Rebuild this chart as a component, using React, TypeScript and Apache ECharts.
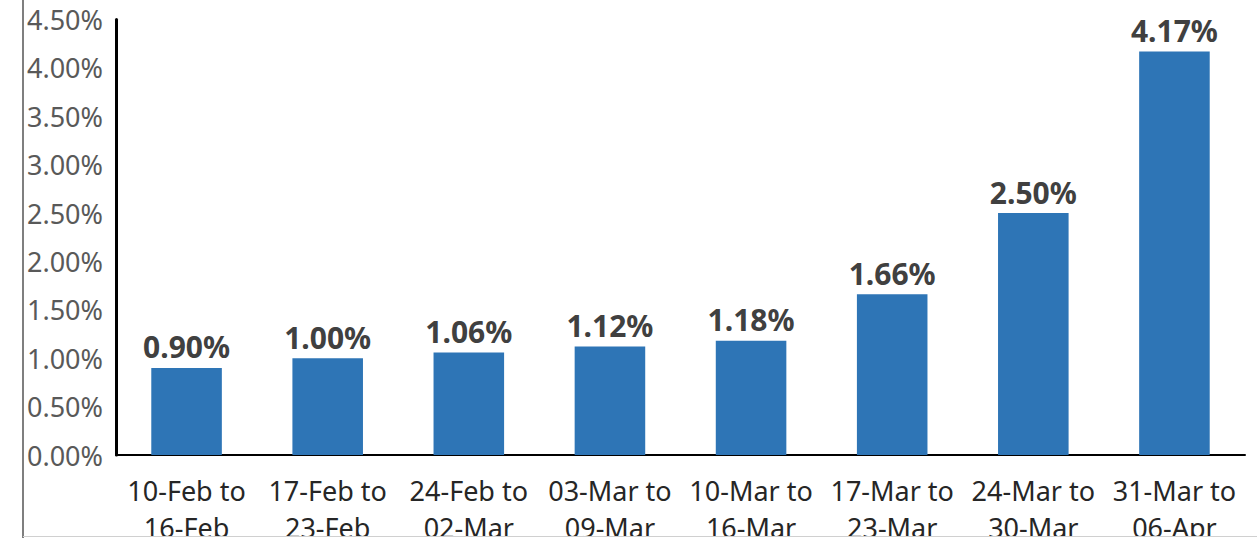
import React, { useEffect, useRef } from "react";
import * as echarts from "echarts";

const categories = [
  "10-Feb to\n16-Feb",
  "17-Feb to\n23-Feb",
  "24-Feb to\n02-Mar",
  "03-Mar to\n09-Mar",
  "10-Mar to\n16-Mar",
  "17-Mar to\n23-Mar",
  "24-Mar to\n30-Mar",
  "31-Mar to\n06-Apr",
];
const values = [0.9, 1.0, 1.06, 1.12, 1.18, 1.66, 2.5, 4.17];

export default function App() {
  const ref = useRef<HTMLDivElement>(null);
  useEffect(() => {
    if (!ref.current) return;
    const chart = echarts.init(ref.current, null, { renderer: "svg" });
    chart.setOption({
      animation: false,
      textStyle: { fontFamily: "Noto Sans" },
      grid: {
        left: 116,
        top: 19.5,
        right: 12,
        bottom: 83,
        containLabel: false,
        outerBoundsMode: "none",
      },
      xAxis: {
        type: "category",
        data: categories,
        axisLine: { lineStyle: { color: "#000", width: 2 } },
        axisTick: { show: false },
        axisLabel: {
          color: "#262626",
          fontSize: 27,
          lineHeight: 37,
          margin: 17,
          interval: 0,
          fontFamily: "Noto Sans",
        },
      },
      yAxis: {
        type: "value",
        min: 0,
        max: 4.5,
        interval: 0.5,
        axisLine: { show: true, lineStyle: { color: "#000", width: 3 } },
        axisTick: { show: false },
        splitLine: { show: false },
        axisLabel: {
          color: "#595959",
          fontSize: 27,
          margin: 13,
          fontFamily: "Noto Sans",
          formatter: (v: number) => v.toFixed(2) + "%",
        },
      },
      series: [
        {
          type: "bar",
          data: values,
          barWidth: "50%",
          itemStyle: { color: "#2E75B6" },
          label: {
            show: true,
            position: "top",
            distance: 6,
            color: "#404040",
            fontSize: 30,
            fontWeight: "bold",
            fontFamily: "Noto Sans",
            formatter: (p: any) => Number(p.value).toFixed(2) + "%",
          },
        },
      ],
      graphic: [
        { type: "rect", z: 100, shape: { x: 0, y: 0, width: 22, height: 538 }, style: { fill: "#fff" } },
        { type: "rect", z: 100, shape: { x: 0, y: 537, width: 1257, height: 10 }, style: { fill: "#fff" } },
        { type: "line", z: 101, shape: { x1: 23, y1: 0, x2: 23, y2: 538 }, style: { stroke: "#7f7f7f", lineWidth: 2 } },
        { type: "line", z: 101, shape: { x1: 23, y1: 536.5, x2: 1257, y2: 536.5 }, style: { stroke: "#d0d0d0", lineWidth: 1 } },
      ],
    });
    return () => chart.dispose();
  }, []);
  return (
    <div
      ref={ref}
      style={{ position: "fixed", left: 0, top: 0, width: 1257, height: 538, background: "#fff" }}
    />
  );
}
